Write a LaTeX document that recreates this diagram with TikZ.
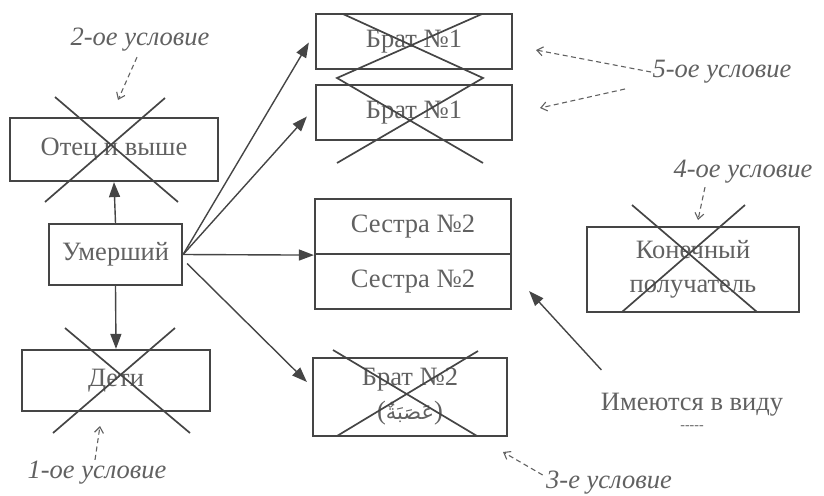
\documentclass[tikz,border=0pt]{standalone}
\usepackage{fontspec}
\setmainfont{Liberation Serif}
\newfontfamily\arabicfont[Script=Arabic]{DejaVu Sans}
\TeXXeTstate=1
\usetikzlibrary{arrows.meta,positioning,calc}
\definecolor{inkgray}{gray}{0.27}
\definecolor{txtgray}{gray}{0.38}

\begin{document}
\begin{tikzpicture}[x=1pt,y=-1pt,
		box/.style={draw=inkgray,line width=2.2pt,text=txtgray,font=\fontsize{26.5}{34}\selectfont,inner sep=0pt,align=center},
		cond/.style={text=txtgray,font=\fontsize{26.5}{30}\selectfont\itshape},
		condarrow/.style={draw=txtgray,line width=1.1pt,dash pattern=on 5pt off 3.5pt,-{Straight Barb[length=6pt,width=9pt]}},
		link/.style={draw=inkgray,line width=1.4pt,-{Triangle[length=15pt,width=11pt]}},
		cross/.style={draw=inkgray,line width=1.7pt}]
	\useasboundingbox (0,0) rectangle (824,495);
	% left column
	\node[box,minimum width=208pt,minimum height=63pt] (otec) at (114,149.5) {Отец и выше};
	\node[box,minimum width=133pt,minimum height=61pt] (umer) at (115.5,254.5) {Умерший};
	\node[box,minimum width=188pt,minimum height=61pt] (deti) at (116,380.5) {Дети};
	% right column
	\node[box,minimum width=196pt,minimum height=55pt] (brataA) at (414,41.5) {Брат №1};
	\node[box,minimum width=196pt,minimum height=55pt] (brataB) at (414,112.5) {Брат №1};
	\node[box,minimum width=196pt,minimum height=55pt] (sestraA) at (413,226.5) {Сестра №2};
	\node[box,minimum width=196pt,minimum height=55pt] (sestraB) at (413,281.5) {Сестра №2};
	\node[box,minimum width=194pt,minimum height=78pt] (bratb) at (410,397) {\raisebox{-3pt}{Брат №2}\\[3pt]({\arabicfont\fontsize{21}{24}\selectfont\beginR عَصَبَةٌ\endR})};
	\node[box,minimum width=212pt,minimum height=85pt] (konech) at (693,269.5) {Конечный\\получатель};
	\node[text=txtgray,font=\fontsize{26.5}{30}\selectfont] (imeyut) at (692,405) {Имеются в виду};
	\node[text=txtgray,font=\fontsize{14}{16}\selectfont] (dash) at (692,428) {-{}-{}-{}-{}-};
	% crossing out
	\draw[cross] (45,202) -- (165,98) (55,97) -- (178,202);
	\draw[cross] (53,433) -- (175,328) (65,328) -- (190,433);
	\draw[cross] (343,14) -- (483,78) -- (337,163) (482,14) -- (337,78) -- (483,163);
	\draw[cross] (333,350) -- (477,436) (478,351) -- (337,436);
	\draw[cross] (632,205) -- (757,312) (745,205) -- (622,312);
	% arrows
	\draw[link] (umer.north) -- (otec.south);
	\draw[link] (umer.south) -- (deti.north);
	\draw[link] (umer.east) -- ($(brataA.west)+(-6,1)$);
	\draw[link] (umer.east) -- ($(brataB.west)+(-8,4)$);
	\draw[link] (umer.east) -- (sestraA.south west);
	\draw[link] ($(umer.east)+(4,9)$) -- ($(bratb.west)+(-5,-15)$);
	\draw[link] ($(imeyut.north west)+(4,-20)$) -- ($(sestraB.south east)+(17,-19)$);
	% conditions
	\node[cond] (cond2) at (140,40) {2-ое условие};
	\node[cond] (cond1) at (97,473) {1-ое условие};
	\node[cond] (cond5) at (722,72) {5-ое условие};
	\node[cond] (cond4) at (743,172) {4-ое условие};
	\node[cond] (cond3) at (609,483) {3-е условие};
	\coordinate (tip2) at (118,100);
	\coordinate (tip1) at (100,426);
	\coordinate (tip5a) at (536,50);
	\coordinate (tail5b) at (625,89);
	\coordinate (tip5b) at (540,108);
	\coordinate (tip4) at (698,220);
	\coordinate (tip3) at (503,452);
	\draw[condarrow] ($(cond2.south)+(-3,2)$) -- (tip2);
	\draw[condarrow] ($(cond1.north)+(-2,2)$) -- (tip1);
	\draw[condarrow] ($(cond5.west)+(2,0)$) -- (tip5a);
	\draw[condarrow] (tail5b) -- (tip5b);
	\draw[condarrow] ($(cond4.south)+(-38,0)$) -- (tip4);
	\draw[condarrow] ($(cond3.west)+(0,-8)$) -- (tip3);
\end{tikzpicture}
\end{document}
